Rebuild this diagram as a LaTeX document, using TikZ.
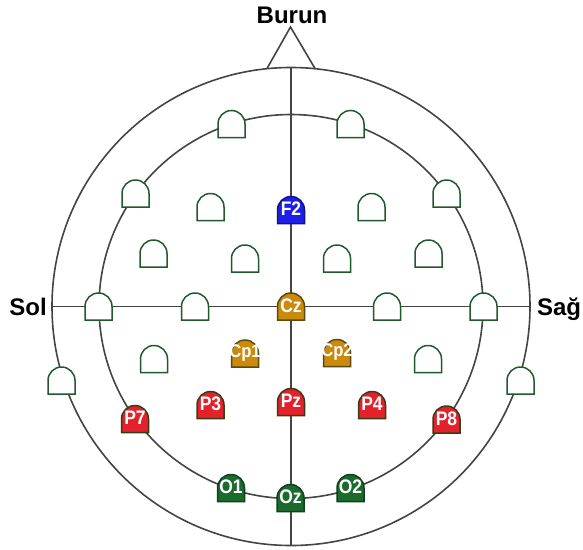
\documentclass[tikz,border=0pt]{standalone}
\usepackage{fontspec}
\setmainfont{Liberation Sans}
\usepackage{graphicx}
\definecolor{linegray}{HTML}{444444}
\definecolor{egreen}{HTML}{1F5A2A}
\definecolor{fblue}{HTML}{1E1EEB}
\definecolor{dblue}{HTML}{14147A}
\definecolor{forange}{HTML}{CC8A0C}
\definecolor{dorange}{HTML}{5A4A10}
\definecolor{fred}{HTML}{E3212B}
\definecolor{dred}{HTML}{3A3A18}
\definecolor{fgreen}{HTML}{1B6B2E}
\definecolor{dgreen}{HTML}{12401C}
\newcommand\electrode[6]{%
  \path[elec, fill=#4, draw=#5] (#2-13.5,-#3-13.5) -- (#2-13.5,-#3)
     arc[start angle=180, end angle=0, radius=13.5] -- (#2+13.5,-#3-13.5) -- cycle;
  \node[elabel] (#1) at (#2,-#3+1) {#6};}
\tikzset{
  headline/.style={draw=linegray, line width=1.6pt},
  elec/.style={line width=1.5pt},
  elabel/.style={inner sep=0pt, text=white, font=\fontsize{17.5}{17.5}\selectfont\bfseries},
  side/.style={font=\fontsize{24}{24}\selectfont\bfseries, inner sep=0pt, anchor=base}
}
\begin{document}
\begin{tikzpicture}[x=1pt,y=1pt]
\useasboundingbox (0,0) rectangle (583,-549);
% head
\coordinate (c) at (291,-306.5);
\draw[headline] (c) circle[radius=239];
\draw[headline] (c) circle[radius=192];
\coordinate (nl) at (267,-68.5);
\coordinate (nt) at (290.5,-27);
\coordinate (nr) at (315,-68.5);
\draw[headline, line join=miter] (nl) -- (nt) -- (nr);
\coordinate (ax1) at (52,-306.5);
\coordinate (ax2) at (530,-306.5);
\coordinate (ay1) at (291,-67.5);
\coordinate (ay2) at (291,-545.5);
\draw[headline] (ax1) -- (ax2);
\draw[headline] (ay1) -- (ay2);
% labels
\node[side] (burun) at (292,-23) {Burun};
\node[side] (sol) at (28,-315) {Sol};
\node[side] (sag) at (559,-315) {Sağ};
% electrodes
\electrode{e1}{231.5}{124}{white}{egreen}{}
\electrode{e2}{350.5}{124}{white}{egreen}{}
\electrode{e3}{135.5}{193.5}{white}{egreen}{}
\electrode{e4}{210.5}{207}{white}{egreen}{}
\electrode{F2}{291}{210}{fblue}{dblue}{\scalebox{1}[1.12]{F2}}
\electrode{e5}{371.5}{207}{white}{egreen}{}
\electrode{e6}{446.5}{193.5}{white}{egreen}{}
\electrode{e7}{153.5}{253.5}{white}{egreen}{}
\electrode{e8}{245}{258.5}{white}{egreen}{}
\electrode{e9}{337}{258.5}{white}{egreen}{}
\electrode{e10}{428.5}{253.5}{white}{egreen}{}
\electrode{e11}{98.5}{306.5}{white}{egreen}{}
\electrode{e12}{195}{306.5}{white}{egreen}{}
\electrode{Cz}{291}{306.5}{forange}{dorange}{\scalebox{1}[1.12]{Cz}}
\electrode{e13}{387}{306.5}{white}{egreen}{}
\electrode{e14}{483.5}{306.5}{white}{egreen}{}
\electrode{e15}{61.5}{380.5}{white}{egreen}{}
\electrode{e16}{520.5}{380.5}{white}{egreen}{}
\electrode{e17}{154}{359}{white}{egreen}{}
\electrode{Cp1}{245}{353.5}{forange}{dorange}{\scalebox{0.95}[1.05]{Cp1}}
\electrode{Cp2}{337}{353}{forange}{dorange}{\scalebox{0.95}[1.05]{Cp2}}
\electrode{e18}{428}{359}{white}{egreen}{}
\electrode{P7}{135}{419}{fred}{dred}{\scalebox{1}[1.12]{P7}}
\electrode{P3}{210.5}{405}{fred}{dred}{\scalebox{1}[1.12]{P3}}
\electrode{Pz}{291}{402}{fred}{dred}{\scalebox{1}[1.12]{Pz}}
\electrode{P4}{372}{405}{fred}{dred}{\scalebox{1}[1.12]{P4}}
\electrode{P8}{446.5}{419.5}{fred}{dred}{\scalebox{1}[1.12]{P8}}
\electrode{O1}{231}{488}{fgreen}{dgreen}{\scalebox{1}[1.12]{O1}}
\electrode{Oz}{290.5}{498}{fgreen}{dgreen}{\scalebox{1}[1.12]{Oz}}
\electrode{O2}{350.5}{488}{fgreen}{dgreen}{\scalebox{1}[1.12]{O2}}
\end{tikzpicture}
\end{document}
